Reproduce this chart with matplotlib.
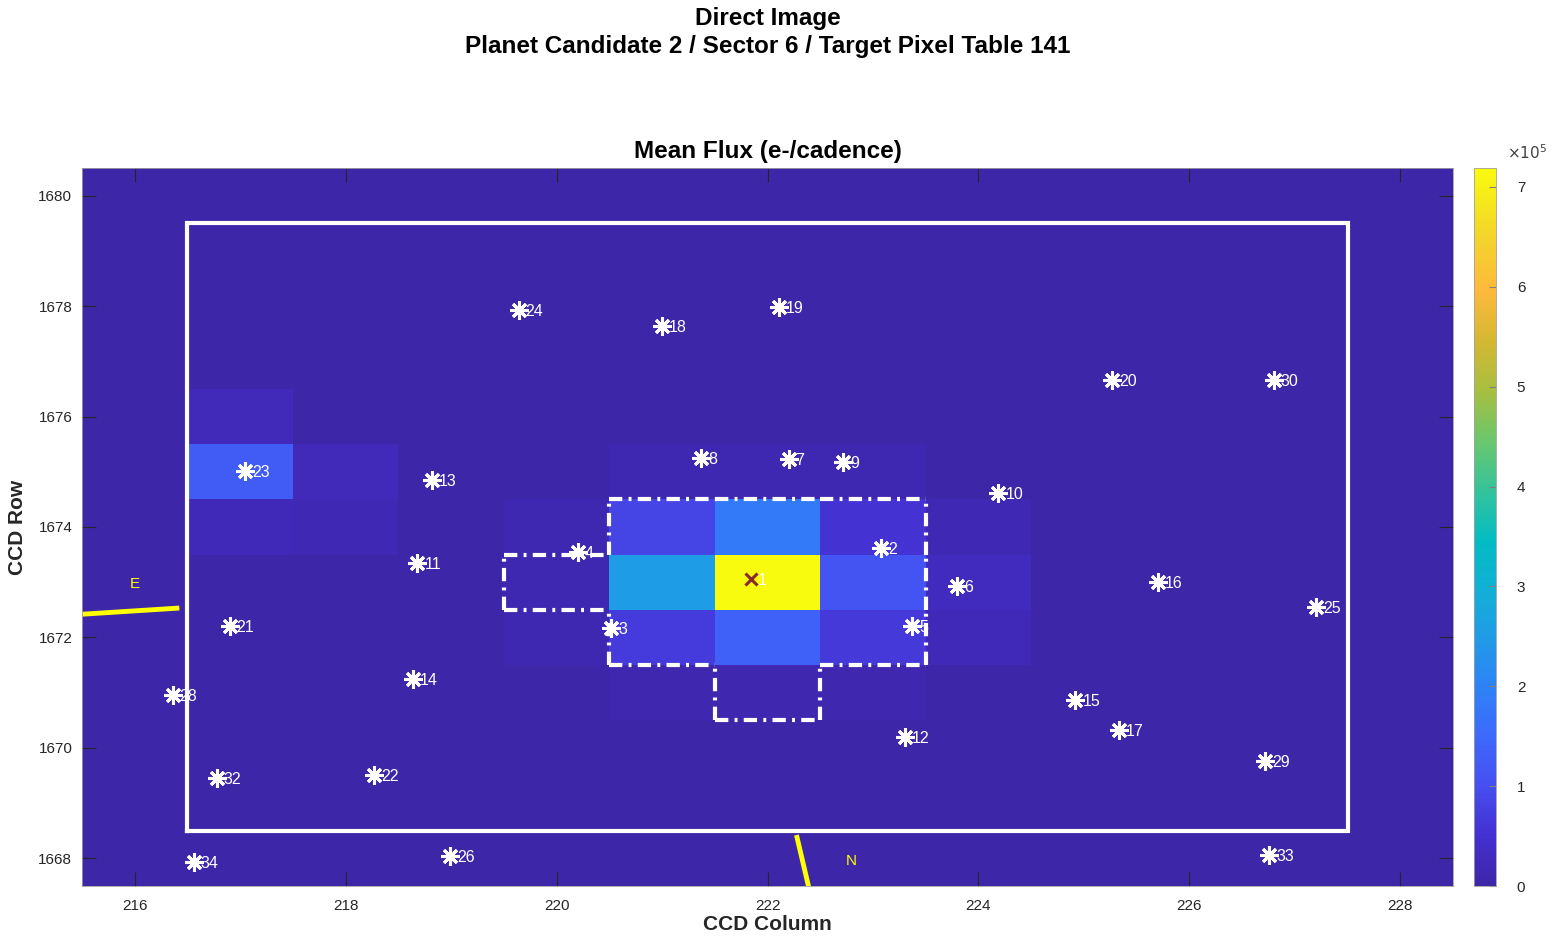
"""
Direct image of the target pixel table: mean flux with aperture,
target pixel table outline, nearby catalogue stars and compass.
"""
import numpy as np
import matplotlib.pyplot as plt
from matplotlib.colors import LinearSegmentedColormap

plt.rcParams['font.family'] = ['Liberation Sans', 'DejaVu Sans']

# pixel grid shown (columns / rows of the CCD)
cols = np.arange(216, 229)
rows = np.arange(1668, 1681)

# mean flux (e-/cadence); pixels not listed sit at the background level
background_flux = 0.0
bright_col = [217, 217, 217, 218, 218, 220, 220, 220,
              221, 221, 221, 221, 221,
              222, 222, 222, 222, 222,
              223, 223, 223, 223, 223,
              224, 224, 224]
bright_row = [1676, 1675, 1674, 1675, 1674, 1674, 1673, 1672,
              1675, 1674, 1673, 1672, 1671,
              1675, 1674, 1673, 1672, 1671,
              1675, 1674, 1673, 1672, 1671,
              1674, 1673, 1672]
bright_flux = [0.25e5, 1.25e5, 0.2e5, 0.25e5, 0.15e5, 0.12e5, 0.12e5, 0.12e5,
               0.12e5, 0.85e5, 2.5e5, 0.7e5, 0.1e5,
               0.12e5, 1.85e5, 7.19e5, 1.35e5, 0.1e5,
               0.12e5, 0.55e5, 1.1e5, 0.65e5, 0.1e5,
               0.15e5, 0.3e5, 0.2e5]

# optimal aperture pixels
ap_col = [220, 221, 221, 221, 222, 222, 222, 222, 223, 223, 223]
ap_row = [1673, 1672, 1673, 1674, 1671, 1672, 1673, 1674, 1672, 1673, 1674]

# target pixel table extent (first/last column and row)
tpt_cols = [217, 227]
tpt_rows = [1669, 1679]

# catalogue stars near the target (id, column, row)
star_id = [2, 3, 4, 5, 6, 7, 8, 9, 10, 11, 12, 13, 14, 15, 16, 17, 18,
           19, 20, 21, 22, 23, 24, 25, 26, 28, 29, 30, 32, 33, 34]
star_col = [223.08, 220.52, 220.20, 223.37, 223.80, 222.20, 221.37, 222.72,
            224.19, 218.68, 223.30, 218.82, 218.64, 224.92, 225.70, 225.33,
            221.00, 222.11, 225.27, 216.90, 218.27, 217.05, 219.64, 227.20,
            218.99, 216.36, 226.72, 226.80, 216.78, 226.76, 216.56]
star_row = [1673.62, 1672.17, 1673.55, 1672.21, 1672.93, 1675.23, 1675.25,
            1675.18, 1674.62, 1673.35, 1670.19, 1674.85, 1671.25, 1670.86,
            1673.00, 1670.32, 1677.64, 1677.99, 1676.66, 1672.21, 1669.51,
            1675.02, 1677.92, 1672.55, 1668.04, 1670.96, 1669.76, 1676.66,
            1669.45, 1668.06, 1667.93]
target_col, target_row = 221.84, 1673.06

# compass arms (start inside the view, run out of it)
compass_e_x = [216.40, 215.00]
compass_e_y = [1672.53, 1672.36]
compass_n_x = [222.28, 222.45]
compass_n_y = [1668.38, 1667.00]
label_e = (216.0, 1672.97)
label_n = (222.79, 1667.95)

cbar_ticks = [0, 1, 2, 3, 4, 5, 6, 7]

# parula-like colour map
parula = LinearSegmentedColormap.from_list('parula', [
    (0.00, '#3e26a8'), (0.07, '#4530d2'), (0.14, '#4650f0'),
    (0.21, '#3d6afc'), (0.28, '#2d84f6'), (0.35, '#1f9de6'),
    (0.42, '#10b2d4'), (0.48, '#03bcc3'), (0.55, '#33c39b'),
    (0.62, '#6bc76e'), (0.69, '#a6bf40'), (0.76, '#d4b832'),
    (0.83, '#fdb93c'), (0.91, '#f3d62a'), (1.00, '#f9fb0e')])

flux = np.full((len(rows), len(cols)), background_flux)
for c, r, v in zip(bright_col, bright_row, bright_flux):
    flux[r - rows[0], c - cols[0]] = v
vmax = max(bright_flux)

fig = plt.figure(figsize=(15.54, 9.39), dpi=100)
ax = fig.add_axes([82 / 1554, 53 / 939, 1371 / 1554, 718 / 939])
im = ax.imshow(flux, cmap=parula, vmin=0, vmax=vmax, origin='lower',
               aspect='auto', interpolation='nearest',
               extent=[cols[0] - 0.5, cols[-1] + 0.5, rows[0] - 0.5, rows[-1] + 0.5])

# target pixel table outline
x0, x1 = tpt_cols[0] - 0.5, tpt_cols[1] + 0.5
y0, y1 = tpt_rows[0] - 0.5, tpt_rows[1] + 0.5
ax.plot([x0, x1, x1, x0, x0], [y0, y0, y1, y1, y0], color='white', lw=3,
        solid_joinstyle='miter')

# aperture outline, edge by edge
ap = set(zip(ap_col, ap_row))
dash = (0, (3.2, 1.5, 0.7, 1.5))
for c, r in ap:
    for dc, dr in [(1, 0), (-1, 0), (0, 1), (0, -1)]:
        if (c + dc, r + dr) in ap:
            continue
        if dc:
            xe = c + 0.5 * dc
            ax.plot([xe, xe], [r - 0.5, r + 0.5], color='white', lw=3, ls=dash)
        else:
            ye = r + 0.5 * dr
            ax.plot([c - 0.5, c + 0.5], [ye, ye], color='white', lw=3, ls=dash)

# stars
ax.plot(star_col, star_row, ls='none', marker=(8, 2, 0), ms=13, mew=2.2,
        color='white')
for i, c, r in zip(star_id, star_col, star_row):
    ax.annotate(str(i), (c, r), xytext=(5, -1), textcoords='offset points',
                color='white', fontsize=11.5, ha='left', va='center')
ax.plot([target_col], [target_row], ls='none', marker='x', ms=9, mew=2.2,
        color='#8a2b2b')
ax.annotate('1', (target_col, target_row), xytext=(5, -1),
            textcoords='offset points', color='white', fontsize=11.5,
            ha='left', va='center')

# compass
ax.plot(compass_e_x, compass_e_y, color='yellow', lw=3.5)
ax.plot(compass_n_x, compass_n_y, color='yellow', lw=3.5)
ax.text(*label_e, 'E', color='yellow', fontsize=11, ha='center', va='center')
ax.text(*label_n, 'N', color='yellow', fontsize=11, ha='center', va='center')

ax.set_xlim(cols[0] - 0.5, cols[-1] + 0.5)
ax.set_ylim(rows[0] - 0.5, rows[-1] + 0.5)
ax.set_xticks(np.arange(216, 229, 2))
ax.set_yticks(np.arange(1668, 1681, 2))
ax.tick_params(direction='in', length=10, width=0.8, color='#262626',
               labelcolor='#262626', labelsize=11, top=True, right=True)
ax.tick_params(axis='x', pad=9)
ax.tick_params(axis='y', pad=7)
for s in ax.spines.values():
    s.set_color('#a0a0a0')
    s.set_linewidth(0.6)
ax.set_xlabel('CCD Column', fontsize=15, fontweight='bold', color='#262626',
              labelpad=2)
ax.set_ylabel('CCD Row', fontsize=15, fontweight='bold', color='#262626',
              labelpad=8)
ax.set_title('Mean Flux (e-/cadence)', fontsize=17.5, fontweight='bold', pad=7)

fig.text(767.5 / 1554, 1 - 19 / 939, 'Direct Image', fontsize=17.5,
         fontweight='bold', ha='center', va='center')
fig.text(767.5 / 1554, 1 - 46 / 939,
         'Planet Candidate 2 / Sector 6 / Target Pixel Table 141', fontsize=17.5,
         fontweight='bold', ha='center', va='center')

# colorbar
cax = fig.add_axes([1474 / 1554, 53 / 939, 22 / 1554, 718 / 939])
cb = fig.colorbar(im, cax=cax)
cb.set_ticks([t * 1e5 for t in cbar_ticks])
cb.set_ticklabels([str(t) for t in cbar_ticks])
cb.ax.tick_params(direction='in', length=5, width=0.8, color='#808080',
                  labelcolor='#262626', labelsize=11, pad=15)
cb.outline.set_edgecolor('#a0a0a0')
cb.outline.set_linewidth(0.6)
fig.text(1527 / 1554, 1 - 153 / 939, r'$\times10^{5}$', fontsize=11,
         color='#404040', ha='center', va='center')

fig.savefig('out.png', dpi=100)
